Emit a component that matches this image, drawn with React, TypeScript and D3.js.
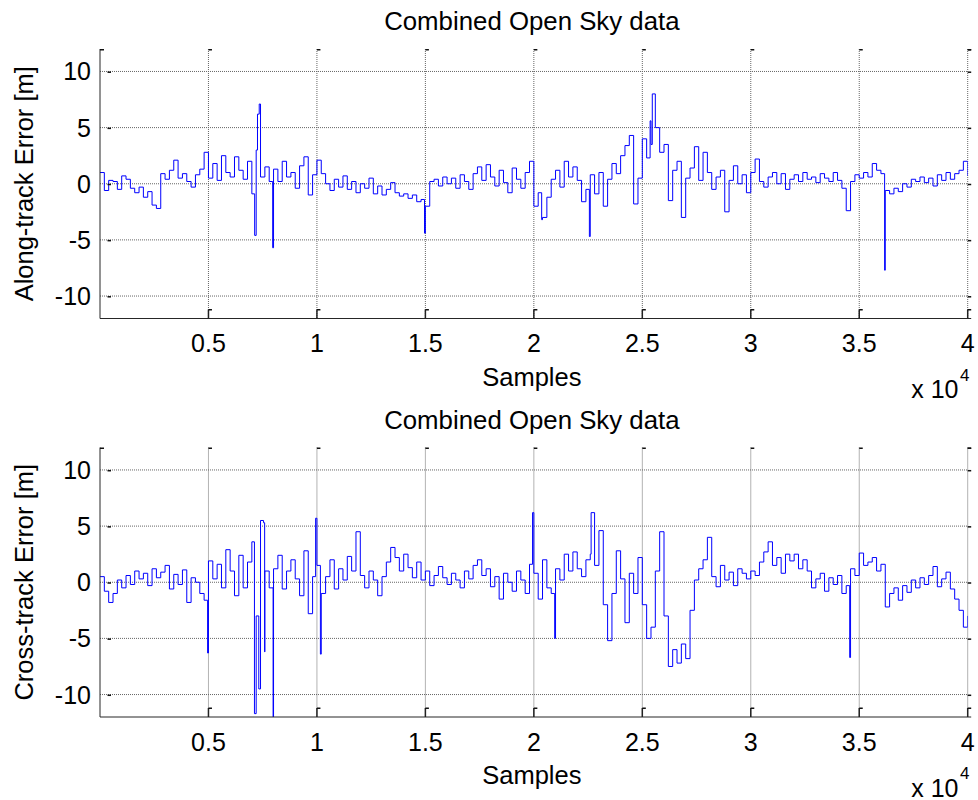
import React, { useEffect, useRef } from "react";
import * as d3 from "d3";

// values, one every 200 samples
const SAMPLE_STEP = 200;
const SAMPLE_MAX = 40000;

const alongTrack = [
  1.0, -0.6, 0.3, 0.2, -0.5, 0.7, 0.4, -0.4, -0.8, -0.3,
  -1.2, -0.7, -1.9, -2.2, 0.9, 0.4, 1.2, 2.1, 0.5, 0.9,
  0.2, -0.3, 0.8, 1.3, 2.8, 0.5, 1.8, 0.3, 2.5, 1.0,
  0.6, 2.4, 1.2, 0.4, 2.0, -0.9, 3.0, 0.6, 1.5, 0.2,
  1.3, 0.2, 2.0, 0.6, 1.0, -0.4, 1.6, 2.4, -1.0, 0.8,
  2.1, 0.9, 0.0, -0.6, 0.4, -0.3, 0.7, -0.5, 0.2, -0.8,
  0.0, -0.4, 0.5, -0.9, -0.2, -1.0, -0.5, 0.1, -0.8, -1.1,
  -0.9, -1.3, -1.0, -1.6, -1.4, -2.0, 0.2, 0.4, -0.2, 0.6,
  0.0, 0.5, -0.4, 0.8, 0.2, -0.5, 0.9, 1.5, 0.3, 1.7,
  0.6, -0.2, 1.2, 0.1, -0.8, 1.4, 0.4, -0.4, 1.0, 2.0,
  -2.0, -0.8, -3.0, -1.2, 0.4, 1.2, -0.3, 2.0, 0.6, 1.5,
  0.3, -1.6, -0.5, 0.8, -0.9, 1.0, -2.0, 0.4, 1.8, 0.9,
  2.5, 3.4, 4.3, -1.8, 0.5, 4.0, 2.3, 3.5, 5.0, 2.8,
  3.5, -1.5, 1.2, 2.0, -3.0, 0.5, 1.4, 3.3, 0.3, 2.8,
  1.0, -0.5, 0.6, 1.2, -2.5, 0.3, 1.6, 0.0, 0.8, -0.8,
  1.0, 2.2, 0.2, -0.3, 0.6, 1.0, 0.0, 0.9, -0.5, 0.4,
  0.8, 0.2, 1.0, 0.4, 0.6, 0.1, 0.9, 0.5, 0.2, 1.0,
  0.3, -0.4, -2.4, 0.2, 0.8, 0.5, 1.0, 0.6, 1.8, 1.2,
  0.9, -0.6, -0.9, -0.4, -0.7, 0.0, -0.3, 0.4, 0.2, 0.6,
  0.1, 0.5, -0.2, 0.8, 0.3, 1.0, 0.4, 0.9, 1.2, 2.0,
  0.7,
];
const alongSpikeSamples = [7130, 7260, 7340, 7960, 14960, 20360, 22560, 25360, 25460, 36170];
const alongSpikeValues = [-4.6, 6.2, 7.1, -5.7, -4.4, -3.2, -4.7, 5.6, 8.0, -7.7];

const crossTrack = [
  0.5, -0.8, -1.8, -1.0, 0.2, -0.5, 0.6, -0.2, 1.0, 0.3,
  0.8, -0.3, 1.2, 0.4, 0.9, 1.5, -0.6, 0.7, -0.2, 1.1,
  -1.8, 0.4, 0.0, -1.0, -1.6, 1.9, 0.3, 1.6, -0.5, 2.9,
  1.0, -1.2, 2.4, -0.5, 1.8, 3.6, -3.0, 5.5, 1.0, -0.5,
  1.2, 2.4, -0.6, 1.0, 2.0, 0.3, -1.2, 2.8, -2.8, 0.5,
  1.5, -1.0, 0.5, 2.0, -0.6, 1.2, 0.2, 2.3, 1.0, 4.5,
  0.6, -0.5, 1.0, 0.2, -1.2, 0.5, 1.8, 3.1, 2.2, 1.0,
  2.5, 1.3, 0.4, 1.8, 0.2, 1.0, -0.3, 0.6, 1.4, 0.4,
  -0.2, 0.8, 0.2, -0.5, 1.0, 0.3, 1.5, 2.0, 0.6, 1.2,
  -0.4, 0.5, -1.5, 0.8, 0.0, -0.8, 1.0, 0.2, -1.0, 1.6,
  0.8, -1.5, 2.0, -0.5, -1.0, 1.2, 0.2, 2.5, 1.0, 2.7,
  1.2, 0.5, 2.0, 2.5, 1.5, 4.6, -2.0, -5.2, -1.0, 2.8,
  0.3, -3.6, 0.8, -1.0, 2.2, -2.0, -5.0, -4.0, 1.0, 4.5,
  -3.0, -7.5, -6.0, -7.2, -5.5, -6.8, -2.5, 0.2, 1.2, 2.0,
  4.0, 0.5, -0.4, 1.5, 0.2, 0.9, -0.3, 1.2, 0.8, 0.3,
  1.0, 0.6, 1.8, 2.7, 3.6, 1.5, 2.2, 0.8, 2.5, 1.9,
  2.5, 1.2, 2.0, 1.0, -0.5, 0.3, 0.8, -0.8, 0.4, -0.2,
  0.6, -1.0, -0.3, 1.2, 0.6, 2.6, 1.5, 1.8, 2.2, 1.0,
  1.6, -2.2, -1.0, -0.5, -1.6, -0.3, -0.9, 0.2, -0.5, 0.4,
  -0.2, 0.6, 1.4, -0.4, 0.3, 0.9, -0.6, -1.5, -2.5, -4.0,
  -3.0,
];
const crossSpikeSamples = [4960, 7120, 7320, 7540, 7590, 7980, 9940, 10160, 19940, 20960, 22640, 34560];
const crossSpikeValues = [-6.3, -11.7, -9.5, 5.3, -6.2, -12.5, 5.7, -6.4, 6.2, -5.0, 6.2, -6.7];

const xTicks = [5000, 10000, 15000, 20000, 25000, 30000, 35000, 40000];
const xTickLabels = ["0.5", "1", "1.5", "2", "2.5", "3", "3.5", "4"];
const yTicks = [-10, -5, 0, 5, 10];

const panelTitles = ["Combined Open Sky data", "Combined Open Sky data"];
const panelYLabels = ["Along-track Error [m]", "Cross-track Error [m]"];

type Pt = { s: number; v: number };

function buildSeries(base: number[], spikeS: number[], spikeV: number[]): Pt[] {
  const pts: Pt[] = base.map((v, i) => ({ s: Math.min(i * SAMPLE_STEP, SAMPLE_MAX), v }));
  spikeS.forEach((s, i) => pts.push({ s, v: spikeV[i] }));
  return pts.sort((a, b) => a.s - b.s);
}

const FONT = "'Liberation Sans', Arial, Helvetica, sans-serif";
const FS = 25;

export default function App() {
  const ref = useRef<SVGSVGElement>(null);

  useEffect(() => {
    document.body.style.margin = "0";
    const svg = d3.select(ref.current);
    svg.selectAll("*").remove();

    const series = [
      buildSeries(alongTrack, alongSpikeSamples, alongSpikeValues),
      buildSeries(crossTrack, crossSpikeSamples, crossSpikeValues),
    ];
    const tops = [49, 447.5];
    const left = 100;
    const right = 967.7;
    const h = 269.5;

    series.forEach((data, p) => {
      const top = tops[p];
      const bottom = top + h;
      const x = d3.scaleLinear().domain([0, SAMPLE_MAX]).range([left, right]);
      const y = d3.scaleLinear().domain([-12, 12]).range([bottom, top]);
      const g = svg.append("g");

      // grid
      g.selectAll(".hg")
        .data(yTicks)
        .enter()
        .append("line")
        .attr("x1", left)
        .attr("x2", right)
        .attr("y1", d => y(d))
        .attr("y2", d => y(d))
        .attr("stroke", "#666")
        .attr("stroke-dasharray", "1,1");
      g.selectAll(".vg")
        .data(xTicks)
        .enter()
        .append("line")
        .attr("x1", d => x(d))
        .attr("x2", d => x(d))
        .attr("y1", top)
        .attr("y2", bottom)
        .attr("stroke", "#666")
        .attr("stroke-dasharray", "1,1");

      // data
      const clipId = "clip" + p;
      g.append("clipPath")
        .attr("id", clipId)
        .append("rect")
        .attr("x", left)
        .attr("y", top)
        .attr("width", right - left)
        .attr("height", h);
      const line = d3
        .line<Pt>()
        .x(d => x(d.s))
        .y(d => y(d.v))
        .curve(d3.curveStepAfter);
      g.append("path")
        .datum(data)
        .attr("clip-path", `url(#${clipId})`)
        .attr("fill", "none")
        .attr("stroke", "#0000ff")
        .attr("stroke-width", 1)
        .attr("d", line);

      // axis lines
      g.append("line")
        .attr("x1", left)
        .attr("x2", left)
        .attr("y1", top)
        .attr("y2", bottom)
        .attr("stroke", "#262626");
      g.append("line")
        .attr("x1", left)
        .attr("x2", right + 3.5)
        .attr("y1", bottom)
        .attr("y2", bottom)
        .attr("stroke", "#262626");

      // tick nubs, MATLAB style
      const nub = (nx: number, ny: number, w: number, hh: number) =>
        g.append("rect").attr("x", nx).attr("y", ny).attr("width", w).attr("height", hh).attr("fill", "#111");
      nub(left, top, 4, 1.5);
      yTicks.forEach(t => {
        nub(left + 7.5, y(t), 3.5, 1.5);
        nub(right, y(t), 3.5, 1.5);
      });
      nub(right, top, 3.5, 1.5);
      xTicks.forEach(t => {
        nub(x(t), top, 3.5, 1.5);
        g.append("line")
          .attr("x1", x(t))
          .attr("x2", x(t))
          .attr("y1", bottom)
          .attr("y2", bottom - 9)
          .attr("stroke", "#222")
          .attr("stroke-width", 1.5);
        nub(x(t), bottom - 9.5, 3.5, 1.5);
      });

      // tick labels
      g.selectAll(".yl")
        .data(yTicks)
        .enter()
        .append("text")
        .attr("x", 91)
        .attr("y", d => y(d) + 9)
        .attr("text-anchor", "end")
        .attr("font-family", FONT)
        .attr("font-size", FS)
        .text(d => String(d));
      g.selectAll(".xl")
        .data(xTicks)
        .enter()
        .append("text")
        .attr("x", d => x(d))
        .attr("y", bottom + 33.5)
        .attr("text-anchor", "middle")
        .attr("font-family", FONT)
        .attr("font-size", FS)
        .text((d, i) => xTickLabels[i]);

      // titles and labels
      const mid = (left + right) / 2;
      g.append("text")
        .attr("x", mid - 2)
        .attr("y", top - 19)
        .attr("text-anchor", "middle")
        .attr("font-family", FONT)
        .attr("font-size", 25.8)
        .text(panelTitles[p]);
      g.append("text")
        .attr("x", mid - 2)
        .attr("y", bottom + 67)
        .attr("text-anchor", "middle")
        .attr("font-family", FONT)
        .attr("font-size", 25.5)
        .text("Samples");
      g.append("text")
        .attr("transform", `translate(33,${(top + bottom) / 2}) rotate(-90)`)
        .attr("text-anchor", "middle")
        .attr("font-family", FONT)
        .attr("font-size", 25.5)
        .text(panelYLabels[p]);
      g.append("text")
        .attr("x", 958.5)
        .attr("y", bottom + 79.5)
        .attr("text-anchor", "end")
        .attr("font-family", FONT)
        .attr("font-size", FS)
        .text("x 10");
      g.append("text")
        .attr("x", 960)
        .attr("y", bottom + 62)
        .attr("font-family", FONT)
        .attr("font-size", 17)
        .text("4");
    });
  }, []);

  return <svg ref={ref} width={978} height={800} style={{ display: "block", background: "#fff" }} />;
}
